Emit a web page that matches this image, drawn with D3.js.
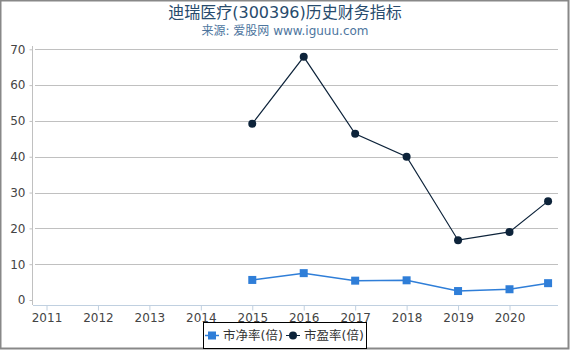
<!DOCTYPE html>
<html>
<head>
<meta charset="utf-8">
<script src="https://cdn.jsdelivr.net/npm/d3@7"></script>
<style>
  body { margin: 0; background: #fff; }
  svg { font-family: "DejaVu Sans", "Noto Sans CJK SC", sans-serif; }
</style>
</head>
<body>
<div id="chart"></div>
<script>
// chart data
const xTicks = [2011, 2012, 2013, 2014, 2015, 2016, 2017, 2018, 2019, 2020];
const dates = [2015, 2016, 2017, 2018, 2019, 2020, 2020.75];
const pbValues = [5.6, 7.5, 5.4, 5.5, 2.5, 3.0, 4.7];
const peValues = [49.2, 67.9, 46.4, 40.0, 16.7, 19.0, 27.6];
const yTicks = [0, 10, 20, 30, 40, 50, 60, 70];
const seriesNames = ["市净率(倍)", "市盈率(倍)"];

const w = 570;
const h = 350;

const svg = d3
  .select("#chart")
  .append("svg")
  .attr("width", w)
  .attr("height", h);

// outer frame
svg
  .append("rect")
  .attr("x", 0.5)
  .attr("y", 0.5)
  .attr("width", w - 2)
  .attr("height", h - 2)
  .attr("fill", "#fff")
  .attr("stroke", "#888")
  .attr("stroke-width", 2);

// titles
svg
  .append("text")
  .attr("x", 285)
  .attr("y", 18)
  .attr("text-anchor", "middle")
  .style("font-size", "16px")
  .attr("fill", "#274b6d")
  .text("迪瑞医疗(300396)历史财务指标");

svg
  .append("text")
  .attr("x", 285)
  .attr("y", 35)
  .attr("text-anchor", "middle")
  .style("font-size", "12px")
  .attr("fill", "#4d759e")
  .text("来源: 爱股网 www.iguuu.com");

// scales
const xScale = d3.scaleLinear().domain([2011, 2020]).range([46.5, 509.5]);
const yScale = d3.scaleLinear().domain([0, 70]).range([300, 49.3]);

// grid lines
svg
  .append("g")
  .selectAll("line")
  .data(yTicks.filter((d) => d > 0))
  .enter()
  .append("line")
  .attr("x1", 35)
  .attr("x2", 558)
  .attr("y1", (d) => Math.round(yScale(d)) + 0.5)
  .attr("y2", (d) => Math.round(yScale(d)) + 0.5)
  .attr("stroke", "#c0c0c0")
  .attr("stroke-width", 1);

// y axis
const yAxis = d3
  .axisLeft(yScale)
  .tickValues(yTicks)
  .tickSize(3)
  .tickPadding(4);

const gy = svg
  .append("g")
  .attr("transform", "translate(32.5,0)")
  .call(yAxis);
gy.select(".domain").attr("stroke", "#c0c0c0").attr("d", "M0,46V305");
gy.selectAll(".tick line").attr("stroke", "#c0c0c0");
gy.selectAll(".tick text")
  .attr("fill", "#444")
  .style("font-size", "12px")
  .style("font-family", "DejaVu Sans");

// x axis
const xAxis = d3
  .axisBottom(xScale)
  .tickValues(xTicks)
  .tickFormat(d3.format("d"))
  .tickSize(5)
  .tickPadding(3);

const gx = svg
  .append("g")
  .attr("transform", "translate(0,305.5)")
  .call(xAxis);
gx.select(".domain").attr("stroke", "#c0d0e0").attr("d", "M33,0H558");
gx.selectAll(".tick line").attr("stroke", "#c0d0e0");
gx.selectAll(".tick text")
  .attr("fill", "#444")
  .style("font-size", "12px")
  .style("font-family", "DejaVu Sans");

// series
const pbData = dates.map((d, i) => ({ date: d, value: pbValues[i] }));
const peData = dates.map((d, i) => ({ date: d, value: peValues[i] }));

const lineFunction = d3
  .line()
  .x((d) => xScale(d.date))
  .y((d) => yScale(d.value));

svg
  .append("path")
  .attr("d", lineFunction(pbData))
  .attr("fill", "none")
  .attr("stroke", "#2f7ed8")
  .attr("stroke-width", 1.5);

svg
  .selectAll(".pb")
  .data(pbData)
  .enter()
  .append("rect")
  .attr("class", "pb")
  .attr("x", (d) => xScale(d.date) - 4)
  .attr("y", (d) => yScale(d.value) - 4)
  .attr("width", 8)
  .attr("height", 8)
  .attr("fill", "#2f7ed8");

svg
  .append("path")
  .attr("d", lineFunction(peData))
  .attr("fill", "none")
  .attr("stroke", "#0d233a")
  .attr("stroke-width", 1.2);

svg
  .selectAll(".pe")
  .data(peData)
  .enter()
  .append("circle")
  .attr("class", "pe")
  .attr("cx", (d) => xScale(d.date))
  .attr("cy", (d) => yScale(d.value))
  .attr("r", 4)
  .attr("fill", "#0d233a");

// legend
const legend = svg.append("g");
legend
  .append("rect")
  .attr("x", 203.5)
  .attr("y", 322.5)
  .attr("width", 163)
  .attr("height", 26)
  .attr("fill", "#fff")
  .attr("stroke", "#000")
  .attr("stroke-width", 1);

const legendItems = [
  { name: seriesNames[0], color: "#2f7ed8", shape: "square", x: 205 },
  { name: seriesNames[1], color: "#0d233a", shape: "circle", x: 286 },
];

legendItems.forEach((item) => {
  legend
    .append("line")
    .attr("x1", item.x)
    .attr("x2", item.x + 14)
    .attr("y1", 335.5)
    .attr("y2", 335.5)
    .attr("stroke", item.color)
    .attr("stroke-width", item.shape === "square" ? 1.5 : 1);

  if (item.shape === "square") {
    legend
      .append("rect")
      .attr("x", item.x + 3)
      .attr("y", 331.5)
      .attr("width", 8)
      .attr("height", 8)
      .attr("fill", item.color);
  } else {
    legend
      .append("circle")
      .attr("cx", item.x + 7)
      .attr("cy", 335.5)
      .attr("r", 4)
      .attr("fill", item.color);
  }

  legend
    .append("text")
    .attr("x", item.x + 18)
    .attr("y", 340)
    .style("font-size", "12.5px")
    .attr("fill", "#333")
    .text(item.name);
});
</script>
</body>
</html>
